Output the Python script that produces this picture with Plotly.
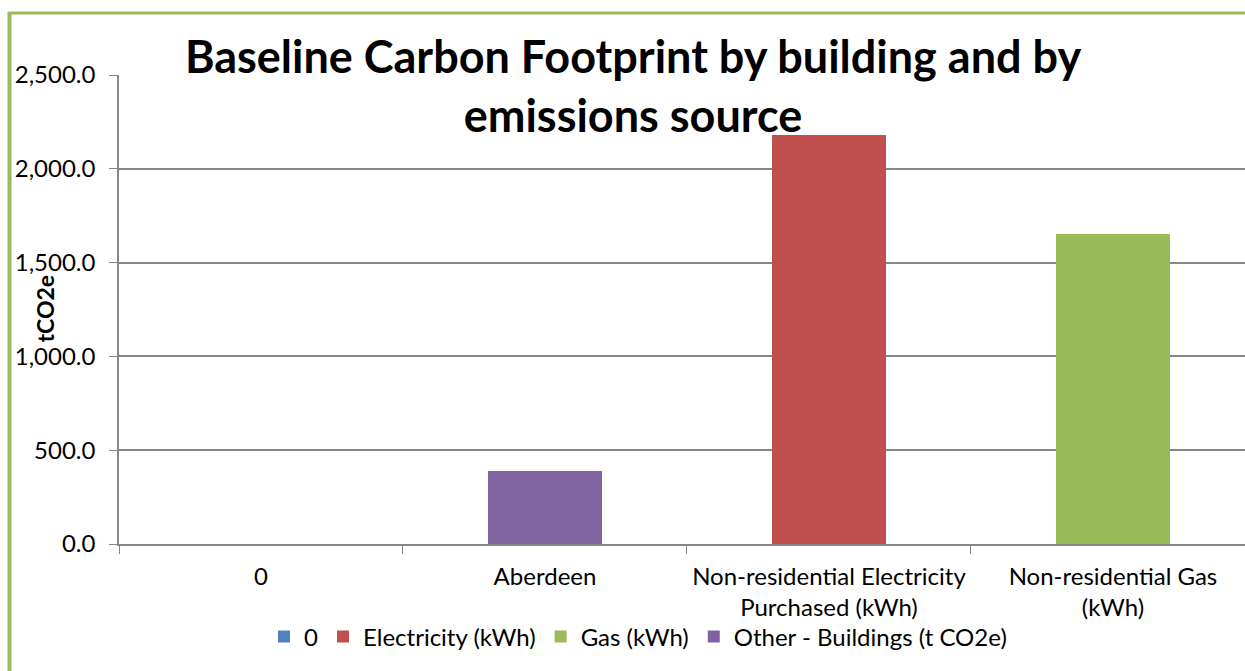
import plotly.graph_objects as go

categories = ["0", "Aberdeen", "Non-residential Electricity<br>Purchased (kWh)", "Non-residential Gas<br>(kWh)"]
series_names = ["0", "Electricity (kWh)", "Gas (kWh)", "Other - Buildings (t CO2e)"]
zero_vals = [0, 0, 0, 0]
electricity_vals = [0, 0, 2181, 0]
gas_vals = [0, 0, 0, 1652]
other_vals = [0, 388, 0, 0]
colors = ["#4F81BD", "#C0504D", "#9BBB59", "#8064A2"]
y_ticks = [0, 500, 1000, 1500, 2000, 2500]

FONT = "Lato"
AXIS = "#868686"

fig = go.Figure()
for name, vals, col in zip(series_names, [zero_vals, electricity_vals, gas_vals, other_vals], colors):
    fig.add_trace(go.Bar(x=categories, y=vals, name=name, marker=dict(color=col, line=dict(width=0)), width=0.4))

fig.update_layout(
    width=1245, height=671,
    barmode="stack",
    plot_bgcolor="white", paper_bgcolor="white",
    margin=dict(l=119, r=0, t=75, b=127, autoexpand=False),
    font=dict(family=FONT, size=24, color="black"),
    title=dict(
        text="<b>Baseline Carbon Footprint by building and by<br>emissions source</b>",
        font=dict(family=FONT, size=45, color="black"),
        x=633 / 1245, xanchor="center", xref="container",
        y=1 - 73 / 671, yanchor="top", yref="container",
    ),
    xaxis=dict(
        type="category", categoryorder="array", categoryarray=categories,
        range=[-0.5, 3.465], tickson="boundaries", ticks="outside", ticklen=8,
        tickcolor=AXIS, showline=True, linecolor=AXIS, linewidth=1.5, showgrid=False,
        tickfont=dict(family=FONT, size=24, color="black"), automargin=False,
        ticklabelstandoff=10,
    ),
    yaxis=dict(
        range=[0, 2500], tickvals=y_ticks, tickformat=",.1f", ticks="outside", ticklen=8,
        tickcolor=AXIS, showline=True, linecolor=AXIS, linewidth=1.5, gridcolor=AXIS, gridwidth=1.5,
        zeroline=False, tickfont=dict(family=FONT, size=24, color="black"), automargin=False,
        ticklabelstandoff=9,
    ),
    legend=dict(
        orientation="h", x=(638 - 119) / 1126, xanchor="center",
        y=(544 - 637) / 469, yanchor="middle", bgcolor="rgba(0,0,0,0)",
        font=dict(family=FONT, size=24, color="black"), traceorder="normal",
    ),
    annotations=[dict(
        text="<b>tCO2e</b>", textangle=-90, showarrow=False,
        xref="paper", yref="paper", x=(44.5 - 119) / 1126, y=(544 - 309) / 469,
        xanchor="center", yanchor="middle",
        font=dict(family=FONT, size=23, color="black"),
    )],
    shapes=[
        dict(type="line", xref="paper", yref="paper", x0=(9.5 - 119) / 1126, x1=(9.5 - 119) / 1126,
             y0=(544 - 12) / 469, y1=(544 - 700) / 469, line=dict(color="#9BBB59", width=4)),
        dict(type="line", xref="paper", yref="paper", x0=(8 - 119) / 1126, x1=(1300 - 119) / 1126,
             y0=(544 - 13) / 469, y1=(544 - 13) / 469, line=dict(color="#9BBB59", width=3)),
    ],
)

fig.write_html("out.html")
